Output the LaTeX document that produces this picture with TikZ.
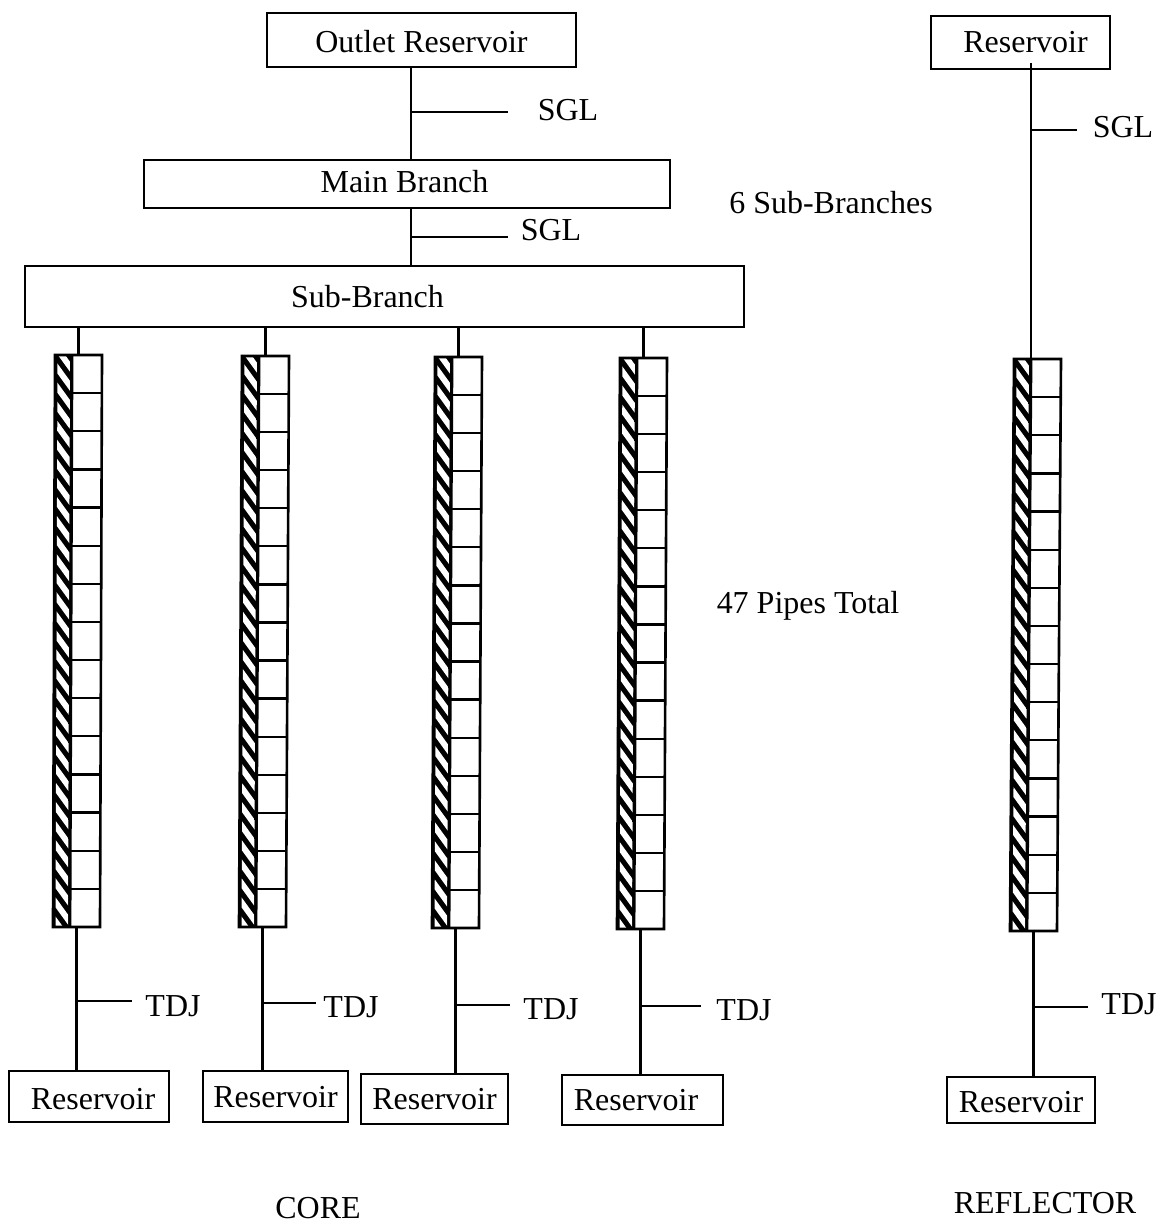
\documentclass[tikz,border=0pt]{standalone}
\usepackage{fontspec}
\setmainfont{Liberation Serif}
\usetikzlibrary{calc}
\tikzset{
  box/.style={draw, line width=1.2pt, inner sep=0pt, anchor=center, text height=0.42cm, text depth=0pt},
  lbl/.style={inner sep=0pt, anchor=center},
  conn/.style={line width=1.3pt}
}
% pipe stack: name, top-left x, y, bottom-left x, y
\newcommand{\pipestack}[5]{
  \coordinate (#1-tl) at (#2,#3);
  \coordinate (#1-bl) at (#4,#5);
  \coordinate (#1-top) at ($(#1-tl)+(23.5,0)$);
  \coordinate (#1-bot) at ($(#1-bl)+(23.5,0)$);
  \fill (#1-tl) -- ($(#1-tl)+(17,0)$) -- ($(#1-bl)+(17,0)$) -- (#1-bl) -- cycle;
  \begin{scope}
    \clip ($(#1-tl)+(2.5,1)$) -- ($(#1-tl)+(15,1)$) -- ($(#1-bl)+(15,-1)$) -- ($(#1-bl)+(2.5,-1)$) -- cycle;
    \foreach \j in {0,...,30}
      \fill[white] ($(#1-tl)!\j/30!(#1-bl)+(0,-14)$) -- ++(17,23.5) -- ++(0,10) -- ++(-17,-23.5) -- cycle;
  \end{scope}
  \draw[line width=1.5pt] (#1-tl) -- ($(#1-tl)+(47,0)$) -- ($(#1-bl)+(47,0)$) -- (#1-bl) -- cycle;
  \draw[line width=1.6pt] ($(#1-tl)+(17,0)$) -- ($(#1-bl)+(17,0)$);
  \foreach \i in {1,...,14}
    \draw[conn] ($(#1-tl)!\i/15!(#1-bl)+(17,0)$) -- ++(30,0);
}
\begin{document}
\begin{tikzpicture}[x=0.02cm, y=-0.02cm, font=\fontsize{18.2}{22}\selectfont]
  \useasboundingbox (0,0) rectangle (1161,1224);
  % top boxes
  \node[box, minimum width=6.18cm, minimum height=1.08cm] (outlet) at (421.5,40) {\raisebox{-0.04cm}{Outlet Reservoir}};
  \node[box, minimum width=10.52cm, minimum height=0.96cm] (mainbranch) at (407,184) {\raisebox{0.04cm}{Main Branch}\hspace{0.1cm}\null};
  \node[box, minimum width=14.38cm, minimum height=1.22cm] (subbranch) at (384.5,296.5) {Sub-Branch\hspace{0.68cm}\null};
  \node[box, minimum width=3.58cm, minimum height=1.06cm] (resR) at (1020.5,42.5) {\hspace{0.2cm}Reservoir};

  % bottom reservoirs
  \node[box, minimum width=3.2cm, minimum height=1.02cm] (resA) at (89,1096.5) {\hspace{0.16cm}\raisebox{-0.05cm}{Reservoir}};
  \node[box, minimum width=2.9cm, minimum height=1.02cm] (resB) at (275.5,1096.5) {Reservoir};
  \node[box, minimum width=2.94cm, minimum height=1.0cm] (resC) at (434.5,1099) {Reservoir};
  \node[box, minimum width=3.22cm, minimum height=1.0cm] (resD) at (642.5,1100) {Reservoir\hspace{0.26cm}\null};
  \node[box, minimum width=2.96cm, minimum height=0.92cm] (resE) at (1021,1100) {\raisebox{-0.04cm}{Reservoir}};

  % pipes
  \pipestack{pipeA}{55}{355}{53}{927}
  \pipestack{pipeB}{242}{356}{239}{927}
  \pipestack{pipeC}{435}{357}{432}{928}
  \pipestack{pipeD}{620}{358}{617}{929}
  \pipestack{pipeE}{1014}{359}{1010}{931}

  % upper connectors
  \coordinate (sglAend) at (508,112);
  \coordinate (sglBend) at (508,237);
  \coordinate (sglCend) at (1077,130);
  \coordinate (coreX) at (411,0);
  \draw[conn] (outlet.south -| coreX) -- (mainbranch.north -| coreX);
  \draw[conn] (mainbranch.south -| coreX) -- (subbranch.north -| coreX);
  \draw[conn] (sglAend -| coreX) -- (sglAend);
  \draw[conn] (sglBend -| coreX) -- (sglBend);
  \coordinate (reflX) at (1031,0);
  \draw[conn] ($(resR.south -| reflX)+(0,-7)$) -- (pipeE-tl -| reflX);
  \draw[conn] (sglCend -| reflX) -- (sglCend);
  \foreach \p in {pipeA,pipeB,pipeC,pipeD}
    \draw[conn] (subbranch.south -| \p-top) -- (\p-top);

  % lower connectors
  \draw[conn] (pipeA-bot) -- (pipeA-bot |- resA.north);
  \draw[conn] (pipeB-bot) -- (pipeB-bot |- resB.north);
  \draw[conn] (pipeC-bot) -- (pipeC-bot |- resC.north);
  \draw[conn] (pipeD-bot) -- (pipeD-bot |- resD.north);
  \draw[conn] (pipeE-bot) -- (pipeE-bot |- resE.north);
  \coordinate (tdjAend) at (132,1001);
  \coordinate (tdjBend) at (316,1003);
  \coordinate (tdjCend) at (510,1005);
  \coordinate (tdjDend) at (701,1006);
  \coordinate (tdjEend) at (1088,1007);
  \draw[conn] (tdjAend -| pipeA-bot) -- (tdjAend);
  \draw[conn] (tdjBend -| pipeB-bot) -- (tdjBend);
  \draw[conn] (tdjCend -| pipeC-bot) -- (tdjCend);
  \draw[conn] (tdjDend -| pipeD-bot) -- (tdjDend);
  \draw[conn] (tdjEend -| pipeE-bot) -- (tdjEend);

  % labels
  \node[lbl] (sglA) at (568,110) {SGL};
  \node[lbl] (sglB) at (551,230) {SGL};
  \node[lbl] (sglC) at (1123,127) {SGL};
  \node[lbl] (subcount) at (831,203) {6 Sub-Branches};
  \node[lbl] (pipecount) at (808,606) {47 Pipes Total};
  \node[lbl] (tdjA) at (173,1006) {TDJ};
  \node[lbl] (tdjB) at (351,1007) {TDJ};
  \node[lbl] (tdjC) at (551,1009) {TDJ};
  \node[lbl] (tdjD) at (744,1010) {TDJ};
  \node[lbl] (tdjE) at (1129,1004) {TDJ};
  \node[lbl] (core) at (318,1208) {CORE};
  \node[lbl] (reflector) at (1045,1203) {REFLECTOR};
\end{tikzpicture}
\end{document}
